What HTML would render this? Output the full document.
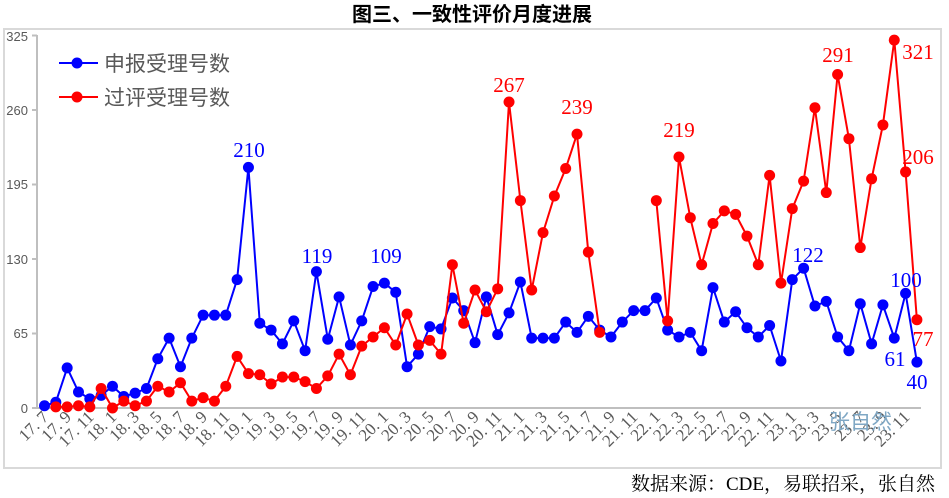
<!DOCTYPE html>
<html><head><meta charset="utf-8"><style>
body{margin:0;background:#fff;width:949px;height:498px;overflow:hidden}
svg{display:block}
</style></head><body>
<svg id="c" width="949" height="498" xmlns="http://www.w3.org/2000/svg">
<rect x="4" y="29" width="937" height="439" fill="#fff" stroke="#d9d9d9" stroke-width="2"/>
<text x="472" y="21" text-anchor="middle" font-family="'Liberation Sans','Noto Sans CJK SC',sans-serif" font-size="20" font-weight="bold" fill="#000">图三、一致性评价月度进展</text>
<g id="axes" stroke="#bfbfbf" stroke-width="2" fill="none">
<line x1="37" y1="35" x2="37" y2="408"/>
<line x1="37" y1="408" x2="921" y2="408"/>
<line x1="32" y1="408" x2="37" y2="408"/>
<line x1="32" y1="333.5" x2="37" y2="333.5"/>
<line x1="32" y1="259" x2="37" y2="259"/>
<line x1="32" y1="184.5" x2="37" y2="184.5"/>
<line x1="32" y1="110" x2="37" y2="110"/>
<line x1="32" y1="35.5" x2="37" y2="35.5"/>
</g>
<g font-family="'Liberation Sans',sans-serif" font-size="13" fill="#595959" text-anchor="end">
<text x="28" y="413">0</text>
<text x="28" y="338">65</text>
<text x="28" y="264">130</text>
<text x="28" y="189">195</text>
<text x="28" y="115">260</text>
<text x="28" y="41">325</text>
</g>
<g id="xl" font-family="'Liberation Serif',serif" font-size="17" fill="#595959" text-anchor="end"></g>
<text x="829" y="429" font-family="'Liberation Sans','Noto Sans CJK SC',sans-serif" font-size="21" fill="#7fa7c4">张自然</text>
<g id="series"></g>
<g font-family="'Liberation Sans','Noto Sans CJK SC',sans-serif" font-size="21" fill="#595959">
<line x1="59" y1="63" x2="98" y2="63" stroke="#0000ff" stroke-width="2"/><circle cx="77" cy="63" r="5.5" fill="#0000ff"/>
<text x="104" y="71">申报受理号数</text>
<line x1="59" y1="97" x2="98" y2="97" stroke="#ff0000" stroke-width="2"/><circle cx="77" cy="97" r="5.5" fill="#ff0000"/>
<text x="104" y="105">过评受理号数</text>
</g>
<g font-family="'Liberation Serif',serif" font-size="21" fill="#0000ff" text-anchor="middle">
<text x="249" y="157">210</text>
<text x="317" y="263">119</text>
<text x="386" y="263">109</text>
<text x="808" y="262">122</text>
<text x="906" y="287">100</text>
<text x="895" y="366">61</text>
<text x="917" y="389">40</text>
</g>
<g font-family="'Liberation Serif',serif" font-size="21" fill="#ff0000" text-anchor="middle">
<text x="509" y="92">267</text>
<text x="577" y="114">239</text>
<text x="679" y="137">219</text>
<text x="838" y="62">291</text>
<text x="918" y="59">321</text>
<text x="918" y="164">206</text>
<text x="923" y="346">77</text>
</g>
<text x="935" y="490" text-anchor="end" font-family="'Liberation Serif','Noto Serif CJK SC',serif" font-size="19" fill="#000">数据来源：CDE，易联招采，张自然</text>
</svg>
<div style="display:none">
17.7 17.9 17.11 18.1 18.3 18.5 18.7 18.9 18.11 19.1 19.3 19.5 19.7 19.9 19.11 20.1 20.3 20.5 20.7 20.9 20.11 21.1 21.3 21.5 21.7 21.9 21.11 22.1 22.3 22.5 22.7 22.9 22.11 23.1 23.3 23.5 23.7 23.9 23.11
</div>
<script>
var NS="http://www.w3.org/2000/svg";
function X(i){return 44.5+i*11.33;}
function Y(v){return 408-v*1.146;}
var blue=[2,5,35,14,8,11,19,10,13,17,43,61,36,61,81,81,81,112,210,74,68,56,76,50,119,60,97,55,76,106,109,101,36,47,71,69,96,85,57,97,64,83,110,61,61,61,75,66,80,68,62,75,85,85,96,68,62,66,50,105,75,84,70,62,72,41,112,122,89,93,62,50,91,56,90,61,100,40];
var red=[null,1,1,2,1,17,0,6,2,6,19,14,22,6,9,6,19,45,30,29,21,27,27,23,17,28,47,29,54,62,70,55,82,55,59,47,125,74,103,84,104,267,181,103,153,185,209,239,136,66,null,null,null,null,181,76,219,166,125,161,172,169,150,125,203,109,174,198,262,188,291,235,140,200,247,321,206,77];
var g=document.getElementById("series");
function draw(d,col){
  var seg=[];
  function flush(){if(seg.length>1){var p=document.createElementNS(NS,"polyline");p.setAttribute("points",seg.join(" "));p.setAttribute("fill","none");p.setAttribute("stroke",col);p.setAttribute("stroke-width","2");g.appendChild(p);}seg=[];}
  d.forEach(function(v,i){if(v===null){flush();return;}seg.push(X(i).toFixed(1)+","+Y(v).toFixed(1));});
  flush();
  d.forEach(function(v,i){if(v===null)return;var c=document.createElementNS(NS,"circle");c.setAttribute("cx",X(i));c.setAttribute("cy",Y(v));c.setAttribute("r","5.5");c.setAttribute("fill",col);g.appendChild(c);});
}
draw(blue,"#0000ff");draw(red,"#ff0000");
var xl=document.getElementById("xl");
var labs=document.querySelector("div").textContent.trim().split(/\s+/);
labs.forEach(function(t,k){var i=k*2;var x=X(i)+5,y=418;var e=document.createElementNS(NS,"text");e.setAttribute("x",x);e.setAttribute("y",y);e.setAttribute("transform","rotate(-45 "+x+" "+y+")");e.textContent=t.replace("."," . ").replace(" . ",". ");xl.appendChild(e);});
</script>
</body></html>
